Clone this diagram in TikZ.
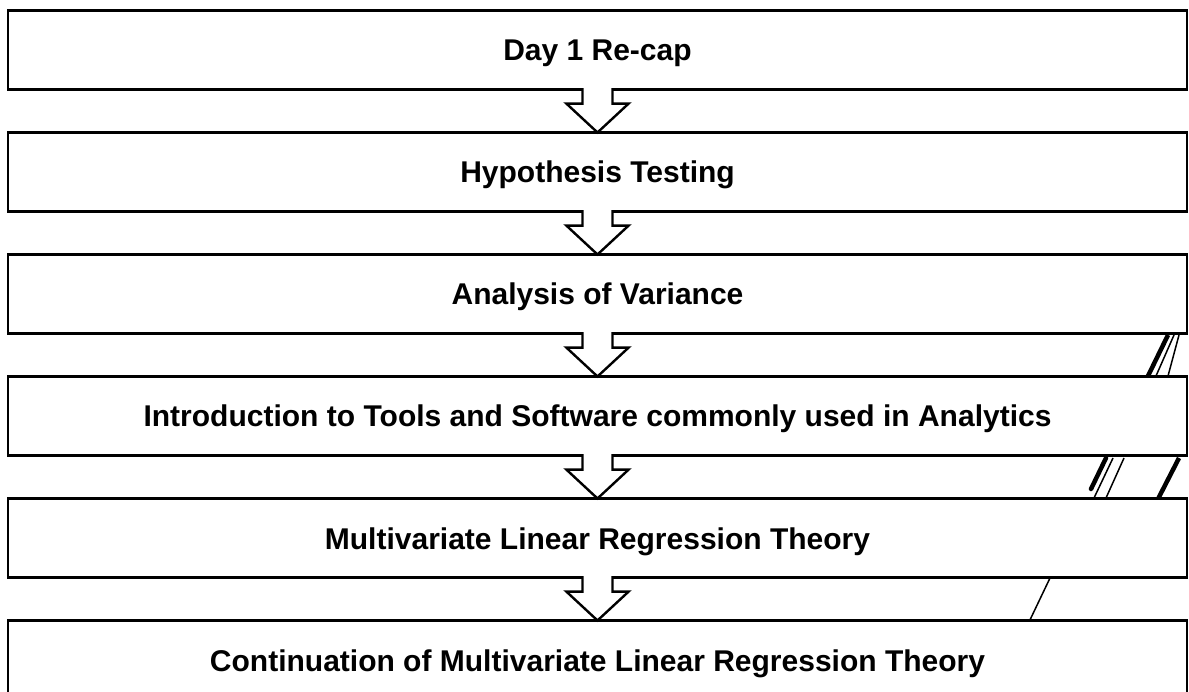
\documentclass[tikz,border=0pt]{standalone}
\usepackage{fontspec}
\setmainfont{Liberation Sans}
\usetikzlibrary{calc}
\begin{document}
\begin{tikzpicture}[x=1pt,y=-1pt,
  stage/.style={draw=black, line width=2.8pt, fill=white, minimum width=1179pt, minimum height=79pt, outer sep=0pt, inner sep=0pt, text height=22pt, text depth=0pt, font=\fontsize{30}{36}\selectfont\bfseries},
  flowarrow/.style={draw=black, line width=2.4pt, fill=white, line join=miter},
  thinstroke/.style={draw=black, line width=1.5pt},
  thickstroke/.style={draw=black, line width=4.5pt}]
\useasboundingbox (0,0) rectangle (1189,692);
\clip (0,0) rectangle (1189,692);

% decorative strokes
\draw[thickstroke] (1168,335) -- (1148,376);
\draw[thinstroke] (1174,335) -- (1156,376);
\draw[thinstroke] (1179,335) -- (1168,376);
\draw[thickstroke, line cap=round] (1106,458) -- (1091,489);
\draw[thinstroke] (1113,458) -- (1094,498);
\draw[thinstroke] (1124,458) -- (1106,498);
\draw[thickstroke] (1179,458) -- (1158,499);
\draw[thinstroke] (1050,578) -- (1029,622);

\node[stage] (b1) at (597.5,50) {Day 1 Re-cap};
\node[stage] (b2) at (597.5,172) {Hypothesis Testing};
\node[stage] (b3) at (597.5,294) {Analysis of Variance};
\node[stage] (b4) at (597.5,416) {Introduction to Tools and Software commonly used in Analytics};
\node[stage] (b5) at (597.5,538) {Multivariate Linear Regression Theory};
\node[stage] (b6) at (597.5,660) {Continuation of Multivariate Linear Regression Theory};

\foreach \a/\b in {b1/b2,b2/b3,b3/b4,b4/b5,b5/b6}{
  \draw[flowarrow] ($(\a.south)+(-15,-1.4)$) -- ($(\a.south)!0.33!(\b.north)+(-15,0)$) -- ($(\a.south)!0.33!(\b.north)+(-31,0)$) -- (\b.north) -- ($(\a.south)!0.33!(\b.north)+(31,0)$) -- ($(\a.south)!0.33!(\b.north)+(15,0)$) -- ($(\a.south)+(15,-1.4)$);
}
\end{tikzpicture}
\end{document}
